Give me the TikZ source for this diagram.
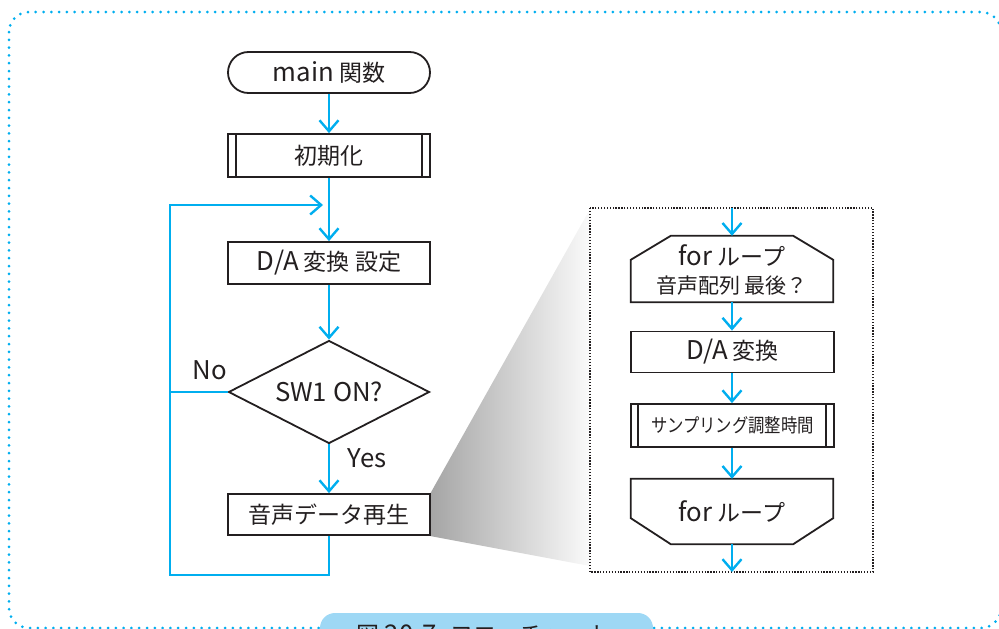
\documentclass[tikz,border=0pt]{standalone}
\usepackage{fontspec}
\setmainfont{Noto Sans CJK JP}
\newfontfamily\condjp[FakeStretch=0.86]{Noto Sans CJK JP}
\newfontfamily\latf[Scale=1.12]{Noto Sans CJK JP}
\usetikzlibrary{arrows.meta,shapes.geometric}
\definecolor{lineblue}{RGB}{0,174,239}
\definecolor{capblue}{RGB}{158,216,245}
\definecolor{ink}{RGB}{35,31,32}
\tikzset{
  boxline/.style={draw=ink, line width=1.8pt, fill=white, inner sep=0pt, text=ink},
  procbox/.style={boxline, rectangle, minimum width=202pt, minimum height=42pt},
  flow/.style={draw=lineblue, line width=2.4pt},
  arr/.style={flow, -{Straight Barb[length=11pt,width=19pt]}},
  big/.style={font=\fontsize{23}{27}\selectfont},
  mid/.style={font=\fontsize{21}{25}\selectfont},
  lbl/.style={text=ink, inner sep=0pt}
}
\begin{document}
\begin{tikzpicture}[x=1pt,y=-1pt]
\useasboundingbox (0,0) rectangle (999,629);
\clip (0,0) rectangle (999,629);

% outer dotted frame
\draw[lineblue, line width=3pt, line cap=round, dash pattern=on 0pt off 7.8pt, rounded corners=20pt]
  (9,12) rectangle (1001,628);

% caption tab
\fill[capblue, rounded corners=15pt] (320,613) rectangle (653,662);
\node[lbl, big] (cap) at (484,635) {図 {\latf 20-7}\hspace{14pt}フローチャート};

% zoom shading
\coordinate (zt) at (590,209);
\coordinate (zb) at (590,566);
\shade[left color={rgb,255:red,165;green,165;blue,165}, right color={rgb,255:red,250;green,250;blue,250}]
  (430,494) -- (zt) -- (zb) -- (430,536) -- cycle;

% detail box
\draw[ink, line width=1.3pt, dash pattern=on 1.3pt off 1.6pt] (590,208) rectangle (873,572);
\coordinate (dtop) at (732,208);
\coordinate (dbot) at (732,572);

% main column
\node[boxline, rounded corners=20.5pt, minimum width=202pt, minimum height=41pt, big] (main) at (329,72.5) {{\latf main} 関数};
\node[procbox, minimum height=43pt, big] (init) at (329,155.5) {初期化};
\draw[ink, line width=1.8pt] ([xshift=9pt]init.north west) -- ([xshift=9pt]init.south west)
  ([xshift=-9pt]init.north east) -- ([xshift=-9pt]init.south east);
\node[procbox, big] (da1) at (329,263) {{\latf D/A} 変換 設定};
\node[boxline, diamond, minimum width=201pt, minimum height=103pt, aspect=2, big] (sw) at (329,392) {\latf SW1 ON?};
\node[procbox, minimum height=41pt, big] (play) at (329,514.5) {音声データ再生};

\node[lbl, big] (no) at (210,370) {\latf No};
\node[lbl, big] (yes) at (367,458) {\latf Yes};

\coordinate (cl) at (170,575);
\coordinate (mt) at (323,205);

\draw[arr] (main.south) -- (init.north);
\draw[arr] (init.south) -- (da1.north);
\draw[arr] (da1.south) -- (sw.north);
\draw[arr] (sw.south) -- (play.north);
\draw[arr] (play.south) |- (cl) |- (mt);
\draw[flow] (sw.west) -- (sw.west -| cl);

% detail column
\node[minimum width=202pt, minimum height=66pt, inner sep=0pt] (loop1) at (732,269) {};
\draw[ink, line width=1.8pt, fill=white]
  (loop1.south west) -- ([yshift=-24pt]loop1.north west) -- ([xshift=40pt]loop1.north west)
  -- ([xshift=-40pt]loop1.north east) -- ([yshift=-24pt]loop1.north east) -- (loop1.south east) -- cycle;
\node[lbl, big] (l1a) at (732,255) {{\latf for} ループ};
\node[lbl, mid] (l1b) at (732,286) {音声配列 最後？};

\node[procbox, minimum width=203pt, minimum height=41pt, big] (da2) at (732.5,352) {{\latf D/A} 変換};
\node[procbox, minimum width=203pt, minimum height=43pt, font=\condjp\fontsize{19}{22}\selectfont] (samp) at (732.5,425.5) {サンプリング調整時間};
\draw[ink, line width=1.8pt] ([xshift=8pt]samp.north west) -- ([xshift=8pt]samp.south west)
  ([xshift=-9pt]samp.north east) -- ([xshift=-9pt]samp.south east);

\node[minimum width=202pt, minimum height=65pt, inner sep=0pt] (loop2) at (732,511.5) {};
\draw[ink, line width=1.8pt, fill=white]
  (loop2.north west) -- ([yshift=26pt]loop2.south west) -- ([xshift=40pt]loop2.south west)
  -- ([xshift=-40pt]loop2.south east) -- ([yshift=26pt]loop2.south east) -- (loop2.north east) -- cycle;
\node[lbl, big] (l2) at (732,511) {{\latf for} ループ};

\draw[arr] (dtop) -- (loop1.north);
\draw[arr] (loop1.south) -- (da2.north -| loop1.south);
\draw[arr] (da2.south -| loop1.south) -- (samp.north -| loop1.south);
\draw[arr] (samp.south -| loop1.south) -- (loop2.north);
\draw[arr] (loop2.south) -- (dbot);
\end{tikzpicture}
\end{document}
